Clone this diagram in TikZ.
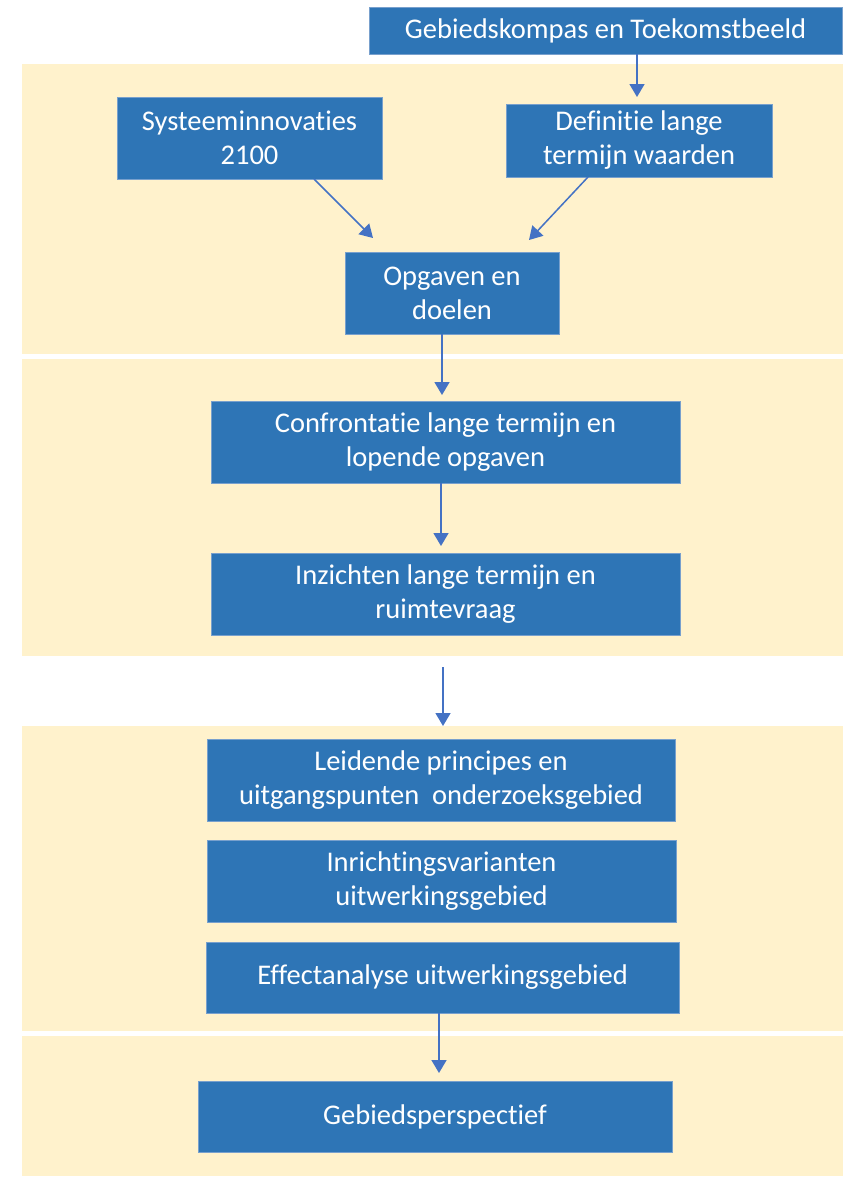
\documentclass[tikz,border=0pt]{standalone}
\usepackage{fontspec}
\setmainfont[Ligatures={NoCommon}]{Carlito}
\usetikzlibrary{arrows.meta}
\definecolor{boxblue}{RGB}{46,117,182}
\definecolor{boxedge}{RGB}{120,160,205}
\definecolor{bandfill}{RGB}{255,242,204}
\definecolor{arrowblue}{RGB}{68,114,196}
\tikzset{
  box/.style={fill=boxblue, draw=boxedge, line width=0.8pt, text=white,
    font=\fontsize{28.5}{34}\selectfont, align=center, inner sep=0pt},
  arr/.style={draw=arrowblue, line width=1.5pt,
    -{Triangle[width=15pt,length=13pt]}},
  band/.style={fill=bandfill}
}
\begin{document}
\begin{tikzpicture}[x=1pt,y=-1pt]
\useasboundingbox (0,0) rectangle (853,1178);
% bands
\fill[band] (22,64) rectangle (843,354);
\fill[band] (22,359) rectangle (843,656);
\fill[band] (22,726) rectangle (843,1031);
\fill[band] (22,1036) rectangle (843,1176);
% boxes
\node[box, minimum width=473pt, minimum height=47pt] (top) at (605.5,30.5) {Gebiedskompas en Toekomstbeeld};
\node[box, minimum width=265pt, minimum height=82pt] (sys) at (249.5,138) {Systeeminnovaties\\2100};
\node[box, minimum width=266pt, minimum height=73pt] (def) at (639,140.5) {Definitie lange\\termijn waarden};
\node[box, minimum width=214pt, minimum height=82pt] (opg) at (452,293) {Opgaven en\\doelen};
\node[box, minimum width=469pt, minimum height=82pt] (conf) at (445.5,442) {Confrontatie lange termijn en\\lopende opgaven};
\node[box, minimum width=469pt, minimum height=82pt] (inz) at (445.5,594) {Inzichten lange termijn en\\ruimtevraag};
\node[box, minimum width=468pt, minimum height=82pt] (leid) at (441,780) {Leidende principes en\\uitgangspunten\ \ onderzoeksgebied};
\node[box, minimum width=469pt, minimum height=82pt] (inr) at (441.5,881) {Inrichtingsvarianten\\uitwerkingsgebied};
\node[box, minimum width=473pt, minimum height=71pt] (eff) at (442.5,977.5) {Effectanalyse uitwerkingsgebied};
\node[box, minimum width=474pt, minimum height=71pt] (geb) at (435,1116.5) {Gebiedsperspectief};
% arrow tips
\coordinate (t1) at (637,97);
\coordinate (s2) at (314,179);
\coordinate (t2) at (373,238);
\coordinate (s3) at (588,177);
\coordinate (t3) at (529,240);
\coordinate (t4) at (442,395);
\coordinate (t5) at (441,546);
\coordinate (t6) at (443,726);
\coordinate (t7) at (439,1073);
% connectors
\draw[arr] (top.south -| t1) -- (t1);
\draw[arr] (s2) -- (t2);
\draw[arr] (s3) -- (t3);
\draw[arr] (opg.south -| t4) -- (t4);
\draw[arr] (conf.south -| t5) -- (t5);
\draw[arr, shorten <=32pt] (inz.south -| t6) -- (t6);
\draw[arr] (eff.south -| t7) -- (t7);
\end{tikzpicture}
\end{document}
